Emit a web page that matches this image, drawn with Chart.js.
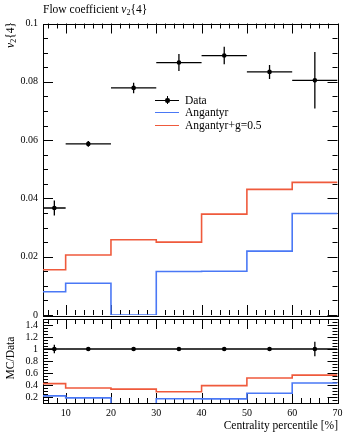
<!DOCTYPE html>
<html>
<head>
<meta charset="utf-8">
<script src="https://cdn.jsdelivr.net/npm/chart.js@4/dist/chart.umd.min.js"></script>
<style>
body{margin:0;background:#fff;width:349px;height:433px;position:relative;overflow:hidden;font-family:"Liberation Serif",serif;color:#000}
canvas{position:absolute;left:0}
.t{position:absolute;white-space:nowrap;font-size:11.5px;line-height:12px}
.t sub{font-size:8px;vertical-align:-2px;line-height:0}
.rot{transform-origin:0 0;transform:rotate(-90deg)}
.ln{position:absolute;height:1.5px}
</style>
</head>
<body>
<canvas id="principal" style="top:0;width:349px;height:322px" width="349" height="322"></canvas>
<canvas id="razon" style="top:315px;width:349px;height:118px" width="349" height="118"></canvas>

<div class="t" style="left:43px;top:3px">Flow coefficient <i>v</i><sub>2</sub>{4}</div>
<div class="t rot" style="left:4px;top:82px;width:60px;text-align:right"><i>v</i><sub>2</sub>{4}</div>
<div class="t rot" style="left:4px;top:408px;width:100px;text-align:center">MC/Data</div>
<div class="t" style="right:11px;top:419px">Centrality percentile [%]</div>

<!-- leyenda -->
<div class="ln" style="left:155px;top:99.5px;width:24px;background:#000"></div>
<div style="position:absolute;left:165px;top:98px;width:4.5px;height:4.5px;border-radius:50%;background:#000"></div>
<div style="position:absolute;left:166.5px;top:96px;width:1.3px;height:8px;background:#000"></div>
<div class="t" style="left:185px;top:94px">Data</div>
<div class="ln" style="left:155px;top:111.5px;width:24px;background:#4a78f5"></div>
<div class="t" style="left:185px;top:106px">Angantyr</div>
<div class="ln" style="left:155px;top:124.5px;width:24px;background:#ef5a3c"></div>
<div class="t" style="left:185px;top:119px">Angantyr+g=0.5</div>

<script>
// bines de centralidad
const binLo=[5,10,20,30,40,50,60];
const binHi=[10,20,30,40,50,60,70];
const centros=[7.5,15,25,35,45,55,65];

// v2{4} datos y errores
const datos=[0.0367,0.0587,0.0779,0.0866,0.0890,0.0834,0.0805];
const errores=[0.0026,0.0010,0.0018,0.0029,0.0030,0.0024,0.0097];

// simulaciones
const angantyr=[0.0080,0.0109,0,0.0149,0.0150,0.0219,0.0348];
const angantyrG=[0.0155,0.0206,0.0258,0.0250,0.0346,0.0431,0.0455];

// etiquetas de los ejes
const xEtiquetas=[10,20,30,40,50,60,70];
const yEtiquetas=[0,0.02,0.04,0.06,0.08,0.1];
const rEtiquetas=[0.2,0.4,0.6,0.8,1,1.2,1.4];

const azul='#4a78f5';
const rojo='#ef5a3c';
const fuente={family:'Liberation Serif',size:10};

function histo(vals){
    let pts=[];
    vals.forEach((v,i)=>{
        pts.push({x:binLo[i],y:v},{x:binHi[i],y:v});
    });
    return pts;
}

function barras(vals,errs){
    let pts=[];
    vals.forEach((v,i)=>{
        pts.push({x:binLo[i],y:v},{x:binHi[i],y:v},{x:binHi[i],y:null});
        pts.push({x:centros[i],y:v-errs[i]},{x:centros[i],y:v+errs[i]},{x:centros[i],y:null});
    });
    return pts;
}

function puntos(vals){
    return vals.map((v,i)=>({x:centros[i],y:v}));
}

// marco y marcas hacia adentro (estilo rivet)
const marco={
    id:'marco',
    beforeDatasetsDraw(chart,args,o){
        const {ctx,chartArea:a,scales}=chart;
        ctx.save();
        ctx.strokeStyle='#000';
        ctx.lineWidth=1;
        ctx.strokeRect(Math.round(a.left)+0.5,Math.round(a.top)+0.5,Math.round(a.right-a.left),Math.round(a.bottom-a.top));
        ctx.beginPath();
        const pasos=(min,max,paso,mayor,fn)=>{
            for(let i=Math.ceil(min/paso-1e-9);i*paso<=max+1e-9;i++){
                const v=i*paso;
                const m=Math.abs(v/mayor-Math.round(v/mayor))<1e-6;
                fn(v,m?10:5);
            }
        };
        pasos(o.xmin,o.xmax,2,10,(v,l)=>{
            const px=Math.round(scales.x.getPixelForValue(v))+0.5;
            ctx.moveTo(px,a.bottom);ctx.lineTo(px,a.bottom-l);
            ctx.moveTo(px,a.top);ctx.lineTo(px,a.top+l);
        });
        pasos(o.ymin,o.ymax,o.ypaso,o.ymayor,(v,l)=>{
            const py=Math.round(scales.y.getPixelForValue(v))+0.5;
            ctx.moveTo(a.left,py);ctx.lineTo(a.left+l,py);
            ctx.moveTo(a.right,py);ctx.lineTo(a.right-l,py);
        });
        ctx.stroke();
        ctx.restore();
    }
};

function sinRelleno(s){
    s.paddingTop=0;s.paddingBottom=0;s.paddingLeft=0;s.paddingRight=0;
}

function ejeY(min,max,etiquetas,dec){
    return {
        type:'linear',min:min,max:max,
        grid:{display:false,drawTicks:false},
        border:{display:false},
        afterFit:(s)=>{s.width=43;sinRelleno(s);},
        afterBuildTicks:(s)=>{s.ticks=etiquetas.map(v=>({value:v}));},
        ticks:{font:fuente,color:'#000',padding:5,autoSkip:false,callback:(v)=>String(+v.toFixed(dec))}
    };
}

const linea=(data,color,ancho)=>({
    data:data,showLine:true,borderColor:color,borderWidth:ancho,pointRadius:0,spanGaps:false,
    backgroundColor:color
});
const marcas=(data)=>({
    data:data,showLine:false,pointRadius:2.3,pointBackgroundColor:'#000',pointBorderWidth:0
});

// grafico principal
new Chart(document.getElementById('principal'),{
    type:'scatter',
    data:{datasets:[
        marcas(puntos(datos)),
        linea(barras(datos,errores),'#000',1.3),
        linea(histo(angantyrG),rojo,1.6),
        linea(histo(angantyr),azul,1.6)
    ]},
    options:{
        responsive:false,animation:false,devicePixelRatio:1,
        layout:{padding:{top:23.5,right:11.5,bottom:7,left:0}},
        plugins:{legend:{display:false},tooltip:{enabled:false},
            marco:{xmin:5,xmax:70,ymin:0,ymax:0.1,ypaso:0.005,ymayor:0.02}},
        scales:{
            x:{type:'linear',min:5,max:70,display:false},
            y:ejeY(0,0.1,yEtiquetas,3)
        }
    },
    plugins:[marco]
});

// panel de razon MC/Data
const rDatos=datos.map(()=>1);
const rErr=errores.map((e,i)=>e/datos[i]);
const rAng=angantyr.map((v,i)=>v/datos[i]);
const rAngG=angantyrG.map((v,i)=>v/datos[i]);

new Chart(document.getElementById('razon'),{
    type:'scatter',
    data:{datasets:[
        marcas(puntos(rDatos)),
        linea(barras(rDatos,rErr),'#000',1.3),
        linea(histo(rAngG),rojo,1.6),
        linea(histo(rAng),azul,1.6)
    ]},
    options:{
        responsive:false,animation:false,devicePixelRatio:1,
        layout:{padding:{top:1,right:11.5,bottom:0,left:0}},
        plugins:{legend:{display:false},tooltip:{enabled:false},
            marco:{xmin:5,xmax:70,ymin:0.1,ymax:1.5,ypaso:0.05,ymayor:0.2}},
        scales:{
            x:{
                type:'linear',min:5,max:70,
                grid:{display:false,drawTicks:false},
                border:{display:false},
                afterFit:(s)=>{s.height=30;sinRelleno(s);},
                afterBuildTicks:(s)=>{s.ticks=xEtiquetas.map(v=>({value:v}));},
                ticks:{font:fuente,color:'#000',padding:4,maxRotation:0,autoSkip:false}
            },
            y:ejeY(0.1,1.5,rEtiquetas,2)
        }
    },
    plugins:[marco]
});
</script>
</body>
</html>
